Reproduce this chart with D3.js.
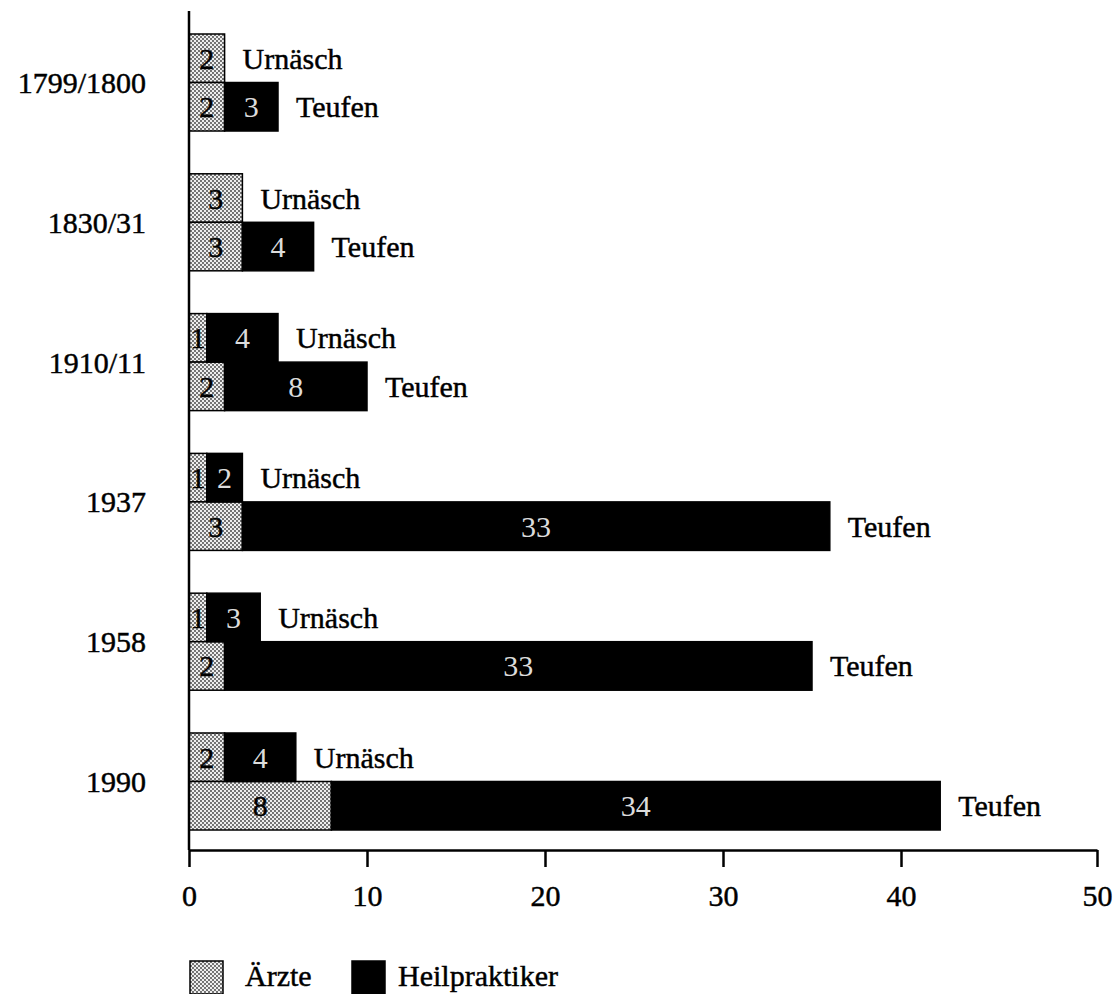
<!DOCTYPE html>
<html>
<head>
<meta charset="utf-8">
<script src="https://cdn.jsdelivr.net/npm/d3@7"></script>
<style>
  body { margin: 0; background: #fff; }
  text { font-family: "Liberation Serif", "Times New Roman", serif; }
  .ink { stroke: #000; stroke-width: 0.45; }
</style>
</head>
<body>
<div id="chart"></div>
<script>
// Data
const years = ["1799/1800", "1830/31", "1910/11", "1937", "1958", "1990"];
const places = ["Urnäsch", "Teufen"];
const aerzteUrnaesch = [2, 3, 1, 1, 1, 2];
const aerzteTeufen = [2, 3, 2, 3, 2, 8];
const heilUrnaesch = [0, 0, 4, 2, 3, 4];
const heilTeufen = [3, 4, 8, 33, 33, 34];
const xTicks = [0, 10, 20, 30, 40, 50];
const legendLabels = ["Ärzte", "Heilpraktiker"];

function createChart(width, height) {
    const marginLeft = 189;
    const axisY = 850;

    // Build one row per year and place.
    const rows = [];
    years.forEach((year, i) => {
        rows.push({ year, place: places[0], aerzte: aerzteUrnaesch[i], heil: heilUrnaesch[i] });
        rows.push({ year, place: places[1], aerzte: aerzteTeufen[i], heil: heilTeufen[i] });
    });

    // The printed axis is slightly stretched near its end, so the scale bends at 40.
    const x = d3.scaleLinear()
        .domain([0, 40, 50])
        .range([marginLeft, 901, 1097]);

    const y = d3.scaleBand()
        .domain(years)
        .range([34, 830])
        .paddingInner(0.306);

    const yInner = d3.scaleBand()
        .domain(places)
        .range([0, y.bandwidth()]);

    const svg = d3.create("svg")
        .attr("width", width)
        .attr("height", height)
        .attr("viewBox", [0, 0, width, height]);

    // Stipple pattern for the Ärzte segments.
    const pattern = svg.append("defs").append("pattern")
        .attr("id", "dots")
        .attr("width", 4)
        .attr("height", 4)
        .attr("patternUnits", "userSpaceOnUse");
    pattern.append("rect").attr("width", 4).attr("height", 4).attr("fill", "#eeeeee");
    pattern.append("circle").attr("cx", 1).attr("cy", 1).attr("r", 0.9).attr("fill", "#3a3a3a");
    pattern.append("circle").attr("cx", 3).attr("cy", 3).attr("r", 0.9).attr("fill", "#3a3a3a");

    const rowY = d => y(d.year) + yInner(d.place);
    const h = yInner.bandwidth();

    // Ärzte segments.
    svg.append("g")
        .selectAll("rect")
        .data(rows)
        .join("rect")
        .attr("x", x(0))
        .attr("y", rowY)
        .attr("width", d => x(d.aerzte) - x(0))
        .attr("height", h)
        .attr("fill", "url(#dots)")
        .attr("stroke", "#000")
        .attr("stroke-width", 1.5);

    // Heilpraktiker segments.
    svg.append("g")
        .selectAll("rect")
        .data(rows.filter(d => d.heil > 0))
        .join("rect")
        .attr("x", d => x(d.aerzte))
        .attr("y", rowY)
        .attr("width", d => x(d.aerzte + d.heil) - x(d.aerzte))
        .attr("height", h)
        .attr("fill", "#000")
        .attr("stroke", "#000")
        .attr("stroke-width", 1.5);

    // Values inside the segments.
    svg.append("g")
        .attr("font-size", 30)
        .attr("text-anchor", "middle")
        .selectAll("text")
        .data(rows)
        .join("text")
        .attr("class", "ink")
        .attr("x", d => (x(0) + x(d.aerzte)) / 2)
        .attr("y", d => rowY(d) + h / 2)
        .attr("dy", "0.35em")
        .attr("fill", "#000")
        .text(d => d.aerzte);

    svg.append("g")
        .attr("font-size", 30)
        .attr("text-anchor", "middle")
        .selectAll("text")
        .data(rows.filter(d => d.heil > 0))
        .join("text")
        .attr("x", d => (x(d.aerzte) + x(d.aerzte + d.heil)) / 2)
        .attr("y", d => rowY(d) + h / 2)
        .attr("dy", "0.35em")
        .attr("fill", "#dcdcdc")
        .text(d => d.heil);

    // Place names after each bar.
    svg.append("g")
        .attr("font-size", 30)
        .selectAll("text")
        .data(rows)
        .join("text")
        .attr("class", "ink")
        .attr("x", d => x(d.aerzte + d.heil) + 18)
        .attr("y", d => rowY(d) + h / 2)
        .attr("dy", "0.35em")
        .attr("fill", "#000")
        .text(d => d.place);

    // Year labels on the left.
    svg.append("g")
        .attr("font-size", 30)
        .attr("text-anchor", "end")
        .selectAll("text")
        .data(years)
        .join("text")
        .attr("class", "ink")
        .attr("x", 146)
        .attr("y", d => y(d) + y.bandwidth() / 2)
        .attr("dy", "0.35em")
        .attr("fill", "#000")
        .text(d => d);

    // Vertical axis line.
    svg.append("line")
        .attr("x1", x(0)).attr("x2", x(0))
        .attr("y1", 11).attr("y2", axisY)
        .attr("stroke", "#000")
        .attr("stroke-width", 2.5);

    // Bottom axis.
    svg.append("g")
        .attr("transform", `translate(0,${axisY})`)
        .call(d3.axisBottom(x).tickValues(xTicks).tickSize(17).tickSizeOuter(0).tickPadding(18))
        .call(g => g.select(".domain").attr("stroke-width", 2.5))
        .call(g => g.selectAll(".tick line").attr("stroke-width", 2.5))
        .call(g => g.selectAll(".tick text")
            .attr("class", "ink")
            .attr("font-size", 30)
            .attr("font-family", "'Liberation Serif', 'Times New Roman', serif")
            .attr("fill", "#000"));

    // Legend.
    const legendX = [190, 352];
    const legend = svg.append("g")
        .selectAll("g")
        .data(legendLabels)
        .join("g")
        .attr("transform", (d, i) => `translate(${legendX[i]},961)`);

    legend.append("rect")
        .attr("width", 33)
        .attr("height", 33)
        .attr("fill", (d, i) => i === 0 ? "url(#dots)" : "#000")
        .attr("stroke", "#000")
        .attr("stroke-width", 1.5);

    legend.append("text")
        .attr("class", "ink")
        .attr("x", (d, i) => i === 0 ? 55 : 46)
        .attr("y", 25)
        .attr("font-size", 30)
        .attr("fill", "#000")
        .text(d => d);

    return svg.node();
}

document.getElementById("chart").appendChild(createChart(1116, 994));
</script>
</body>
</html>
